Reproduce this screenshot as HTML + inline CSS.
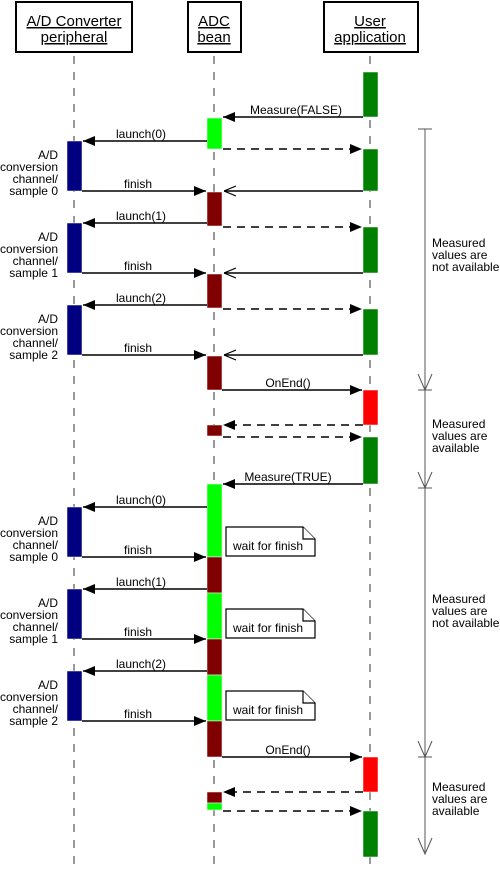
<!DOCTYPE html><html><head><style>body{margin:0;background:#fff}svg{display:block}text{font-family:"Liberation Sans",sans-serif;font-size:12px;fill:#000}text.h{font-size:15px}</style></head><body>
<svg width="500" height="870" viewBox="0 0 500 870" xmlns="http://www.w3.org/2000/svg">
<defs>
<marker id="f" markerWidth="12" markerHeight="10" refX="12" refY="5" orient="auto" markerUnits="userSpaceOnUse"><path d="M0,0L12,5L0,10z" fill="#000"/></marker>
<marker id="o" markerWidth="12" markerHeight="12" refX="12" refY="6" orient="auto" markerUnits="userSpaceOnUse"><path d="M0,1L12,6L0,11" fill="none" stroke="#000" stroke-width="1.2"/></marker>
</defs>
<g fill="#fff" stroke="#000" stroke-width="2">
<rect x="16" y="2" width="116" height="50"/><rect x="188" y="2" width="53" height="50"/><rect x="324" y="2" width="94" height="50"/>
</g>
<g text-anchor="middle" text-decoration="underline">
<text class="h" x="74" y="26">A/D Converter</text><text class="h" x="74" y="42">peripheral</text>
<text class="h" x="214" y="26">ADC</text><text class="h" x="214" y="42">bean</text>
<text class="h" x="370" y="26">User</text><text class="h" x="370" y="42">application</text>
</g>
<g stroke="#333" stroke-dasharray="8,8" stroke-width="1">
<line x1="74" y1="56" x2="74" y2="870"/><line x1="214" y1="56" x2="214" y2="870"/><line x1="370" y1="56" x2="370" y2="870"/>
</g>
<g stroke="#fff" stroke-width="0.5">
<rect x="363" y="72" width="15" height="45" fill="#008000"/>
<rect x="207" y="118" width="15" height="31" fill="#00ff00"/>
<rect x="363" y="149" width="15" height="42" fill="#008000"/>
<rect x="363" y="227" width="15" height="46" fill="#008000"/>
<rect x="363" y="309" width="15" height="46" fill="#008000"/>
<rect x="67" y="141" width="15" height="50" fill="#000080"/>
<rect x="67" y="223" width="15" height="50" fill="#000080"/>
<rect x="67" y="305" width="15" height="50" fill="#000080"/>
<rect x="207" y="192" width="15" height="34" fill="#800000"/>
<rect x="207" y="274" width="15" height="34" fill="#800000"/>
<rect x="207" y="356" width="15" height="34" fill="#800000"/>
<rect x="363" y="390" width="15" height="35" fill="#ff0000"/>
<rect x="207" y="425" width="15" height="11" fill="#800000"/>
<rect x="363" y="437" width="15" height="47" fill="#008000"/>
<rect x="207" y="484" width="15" height="73" fill="#00ff00"/>
<rect x="67" y="507" width="15" height="50" fill="#000080"/>
<rect x="207" y="557" width="15" height="36" fill="#800000"/>
<rect x="67" y="589" width="15" height="50" fill="#000080"/>
<rect x="207" y="593" width="15" height="46" fill="#00ff00"/>
<rect x="207" y="639" width="15" height="36" fill="#800000"/>
<rect x="67" y="671" width="15" height="50" fill="#000080"/>
<rect x="207" y="675" width="15" height="46" fill="#00ff00"/>
<rect x="207" y="721" width="15" height="36" fill="#800000"/>
<rect x="363" y="757" width="15" height="35" fill="#ff0000"/>
<rect x="207" y="792" width="15" height="11" fill="#800000"/>
<rect x="207" y="803" width="15" height="7" fill="#00ff00"/>
<rect x="363" y="811" width="15" height="46" fill="#008000"/>
</g>
<g stroke="#000" stroke-width="1.5" fill="none">
<line x1="363" y1="117" x2="223" y2="117" marker-end="url(#f)"/>
<line x1="207" y1="141" x2="83" y2="141" marker-end="url(#f)"/>
<line x1="223" y1="149" x2="362" y2="149" stroke-dasharray="8,6" marker-end="url(#f)"/>
<line x1="82" y1="191" x2="206" y2="191" marker-end="url(#f)"/>
<line x1="363" y1="191" x2="224" y2="191" marker-end="url(#o)"/>
<line x1="207" y1="223" x2="83" y2="223" marker-end="url(#f)"/>
<line x1="223" y1="227" x2="362" y2="227" stroke-dasharray="8,6" marker-end="url(#f)"/>
<line x1="82" y1="273" x2="206" y2="273" marker-end="url(#f)"/>
<line x1="363" y1="273" x2="224" y2="273" marker-end="url(#o)"/>
<line x1="207" y1="305" x2="83" y2="305" marker-end="url(#f)"/>
<line x1="223" y1="309" x2="362" y2="309" stroke-dasharray="8,6" marker-end="url(#f)"/>
<line x1="82" y1="355" x2="206" y2="355" marker-end="url(#f)"/>
<line x1="363" y1="355" x2="224" y2="355" marker-end="url(#o)"/>
<line x1="222" y1="390" x2="362" y2="390" marker-end="url(#f)"/>
<line x1="363" y1="425" x2="223" y2="425" stroke-dasharray="8,6" marker-end="url(#f)"/>
<line x1="223" y1="437" x2="362" y2="437" stroke-dasharray="8,6" marker-end="url(#f)"/>
<line x1="363" y1="484" x2="223" y2="484" marker-end="url(#f)"/>
<line x1="207" y1="507" x2="83" y2="507" marker-end="url(#f)"/>
<line x1="82" y1="557" x2="206" y2="557" marker-end="url(#f)"/>
<line x1="207" y1="589" x2="83" y2="589" marker-end="url(#f)"/>
<line x1="82" y1="639" x2="206" y2="639" marker-end="url(#f)"/>
<line x1="207" y1="671" x2="83" y2="671" marker-end="url(#f)"/>
<line x1="82" y1="721" x2="206" y2="721" marker-end="url(#f)"/>
<line x1="222" y1="757" x2="362" y2="757" marker-end="url(#f)"/>
<line x1="363" y1="792" x2="223" y2="792" stroke-dasharray="8,6" marker-end="url(#f)"/>
<line x1="223" y1="811" x2="362" y2="811" stroke-dasharray="8,6" marker-end="url(#f)"/>
</g>
<g text-anchor="middle">
<text x="296" y="114">Measure(FALSE)</text>
<text x="141" y="138">launch(0)</text><text x="138" y="188">finish</text>
<text x="141" y="220">launch(1)</text><text x="138" y="270">finish</text>
<text x="141" y="302">launch(2)</text><text x="138" y="352">finish</text>
<text x="288" y="387">OnEnd()</text>
<text x="288" y="481">Measure(TRUE)</text>
<text x="141" y="504">launch(0)</text><text x="138" y="554">finish</text>
<text x="141" y="586">launch(1)</text><text x="138" y="636">finish</text>
<text x="141" y="668">launch(2)</text><text x="138" y="718">finish</text>
<text x="288" y="754">OnEnd()</text>
</g>
<g text-anchor="end">
<text x="58" y="159">A/D</text><text x="58" y="171">conversion</text><text x="58" y="183">channel/</text><text x="58" y="195">sample 0</text>
<text x="58" y="241">A/D</text><text x="58" y="253">conversion</text><text x="58" y="265">channel/</text><text x="58" y="277">sample 1</text>
<text x="58" y="323">A/D</text><text x="58" y="335">conversion</text><text x="58" y="347">channel/</text><text x="58" y="359">sample 2</text>
<text x="58" y="525">A/D</text><text x="58" y="537">conversion</text><text x="58" y="549">channel/</text><text x="58" y="561">sample 0</text>
<text x="58" y="607">A/D</text><text x="58" y="619">conversion</text><text x="58" y="631">channel/</text><text x="58" y="643">sample 1</text>
<text x="58" y="689">A/D</text><text x="58" y="701">conversion</text><text x="58" y="713">channel/</text><text x="58" y="725">sample 2</text>
</g>
<g fill="#fff" stroke="#000" stroke-width="1.2">
<path d="M226,527H303L315,539V556H226Z"/><path d="M303,527V539H315"/>
<path d="M226,609H303L315,621V638H226Z"/><path d="M303,609V621H315"/>
<path d="M226,691H303L315,703V720H226Z"/><path d="M303,691V703H315"/>
</g>
<text x="233" y="550">wait for finish</text>
<text x="233" y="632">wait for finish</text>
<text x="233" y="714">wait for finish</text>
<g stroke="#555" stroke-width="1" fill="none">
<line x1="425" y1="129" x2="425" y2="852"/>
<line x1="418" y1="129" x2="432" y2="129"/>
<path d="M418,374L425,390L432,374"/><line x1="418" y1="390" x2="432" y2="390"/>
<path d="M418,472L425,488L432,472"/><line x1="418" y1="488" x2="432" y2="488"/>
<path d="M418,741L425,757L432,741"/><line x1="418" y1="757" x2="432" y2="757"/>
<path d="M418,838L425,854L432,838"/>
</g>
<text x="432" y="247">Measured</text><text x="432" y="259">values are</text><text x="432" y="271">not available</text>
<text x="432" y="428">Measured</text><text x="432" y="440">values are</text><text x="432" y="452">available</text>
<text x="432" y="603">Measured</text><text x="432" y="615">values are</text><text x="432" y="627">not available</text>
<text x="432" y="791">Measured</text><text x="432" y="803">values are</text><text x="432" y="815">available</text>
</svg>
</body></html>
